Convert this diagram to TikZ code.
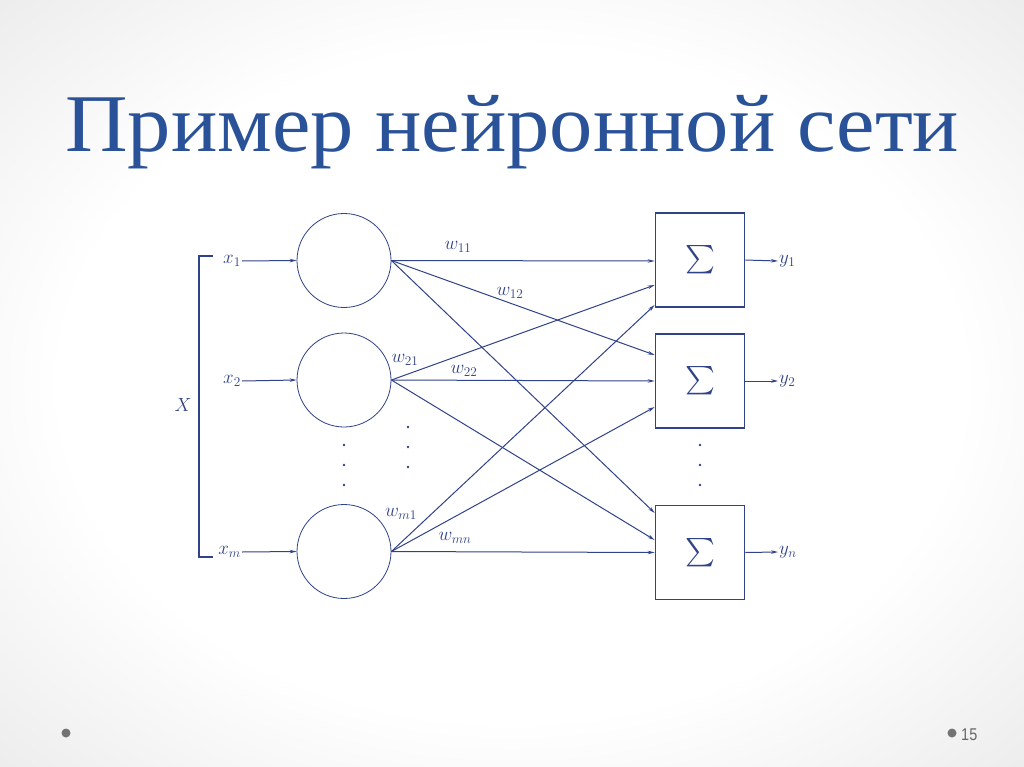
\RequirePackage{fix-cm}
\documentclass[tikz,border=0pt]{standalone}
\usepackage{exscale}
\usepackage{graphicx}
\usepackage{fontspec}
\setmainfont{Liberation Serif}
\newfontfamily\titlefont[FakeStretch=1.056]{Liberation Serif}
\newfontfamily\numfont[FakeStretch=0.85]{Liberation Sans}
\usetikzlibrary{arrows.meta,calc}

\definecolor{titleblue}{RGB}{42,82,152}
\definecolor{netblue}{RGB}{48,66,136}

\newcommand{\sumsign}{\scalebox{1.14}{$\sum$}}

\pgfdeclareradialshading{slidebg}{\pgfpoint{0bp}{0bp}}{color(0bp)=(white); color(22bp)=(white); color(50bp)=(black!15); color(100bp)=(black!19)}

\tikzset{
  arr/.style={netblue, line width=1pt, -{Stealth[length=7pt,width=3.5pt]}},
  neuron/.style={circle, draw=netblue, line width=0.8pt, minimum size=94pt, inner sep=0pt},
  sumbox/.style={rectangle, draw=netblue, line width=1.6pt, minimum width=89pt, minimum height=94pt, inner sep=0pt, text=netblue, font=\fontsize{24.88}{28}\selectfont},
  lbl/.style={text=netblue, inner sep=1pt, font=\fontsize{19}{22}\selectfont}
}

\begin{document}
\begin{tikzpicture}[x=1pt,y=-1pt]
		% slide
		\useasboundingbox (0,0) rectangle (1024,767);
		\shade[shading=slidebg] (0,0) rectangle (1024,767);
		\fill[white] (172,205) rectangle (803,605);
		
		\node[anchor=base west, inner sep=0pt, text=titleblue, font=\titlefont\fontsize{82}{90}\selectfont] (title) at (65,152) {Пример нейронной сети};
		
		% inputs
		\draw[netblue, line width=1.1pt] (213,256) -- (199,256) -- (199,557) -- (213,557);
		\node[lbl] (X) at (183,405) {$X$};
		\node[lbl, anchor=east] (x1) at (242,261) {$x_1$};
		\node[lbl, anchor=east] (x2) at (242,381) {$x_2$};
		\node[lbl, anchor=east] (xm) at (242,552) {$x_m$};
		
		\node[neuron] (n1) at (344,260.5) {};
		\node[neuron] (n2) at (344,380) {};
		\node[neuron] (nm) at (344,551.5) {};
		
		\draw[arr] (x1.east) -- (n1.west);
		\draw[arr] (x2.east) -- (n2.west);
		\draw[arr] (xm.east) -- (nm.west);
		
		% outputs
		\node[sumbox] (s1) at (700,260) {\sumsign};
		\node[sumbox] (s2) at (700,381) {\sumsign};
		\node[sumbox] (s3) at (700,552.5) {\sumsign};
		
		\node[lbl, anchor=west] (y1) at (778,261) {$y_1$};
		\node[lbl, anchor=west] (y2) at (778,381) {$y_2$};
		\node[lbl, anchor=west] (yn) at (778,552) {$y_n$};
		
		\draw[arr] (s1.east) -- (y1.west);
		\draw[arr] (s2.east) -- (y2.west);
		\draw[arr] (s3.east) -- (yn.west);
		
		% weights
		\draw[arr] (n1.east) -- ($(s1.west)+(0,1)$);
		\draw[arr] (n1.east) -- ($(s2.west)+(0,-26)$);
		\draw[arr] (n1.east) -- ($(s3.west)+(0,-39.5)$);
		\draw[arr] (n2.east) -- ($(s1.west)+(0,25)$);
		\draw[arr] (n2.east) -- (s2.west);
		\draw[arr] (n2.east) -- ($(s3.west)+(0,-12.5)$);
		\draw[arr] (nm.east) -- ($(s1.west)+(0,45)$);
		\draw[arr] (nm.east) -- ($(s2.west)+(0,26)$);
		\draw[arr] (nm.east) -- (s3.west);
		
		\node[lbl] (w11) at (458,247) {$w_{11}$};
		\node[lbl] (w12) at (510,293) {$w_{12}$};
		\node[lbl] (w21) at (405,360) {$w_{21}$};
		\node[lbl] (w22) at (464,371) {$w_{22}$};
		\node[lbl] (wm1) at (401,514) {$w_{m1}$};
		\node[lbl] (wmn) at (455,538) {$w_{mn}$};
		
		% dots
		\foreach \y in {445,465,485} {
			\fill[netblue] (344,\y) circle (1.4);
			\fill[netblue] (700,\y) circle (1.4);
		}
		\foreach \y in {427,447,467}
			\fill[netblue] (408,\y) circle (1.4);
		
		% footer
		\fill[black!55] (66,733) circle (4.5);
		\fill[black!55] (952,733) circle (4.5);
		\node[anchor=base west, inner sep=0pt, text=black!60, font=\numfont\fontsize{17}{20}\selectfont] (page) at (961,740) {15};
	\end{tikzpicture}
\end{document}
